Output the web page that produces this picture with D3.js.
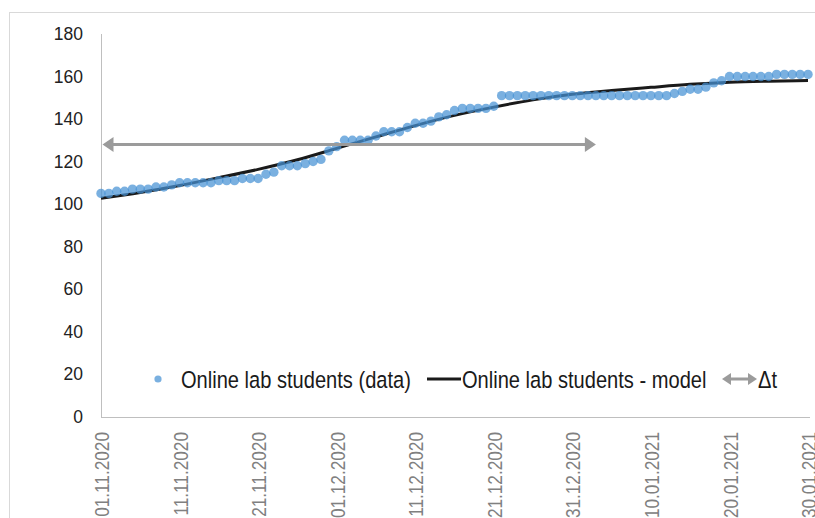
<!DOCTYPE html>
<html><head><meta charset="utf-8">
<script src="https://cdn.jsdelivr.net/npm/d3@7"></script>
<style>body{margin:0;background:#fff;} svg{display:block;}</style>
</head><body>
<svg id="chart" width="815" height="518"></svg>
<script>
// ---- data ----
const startDate = "01.11.2020";
const dataValues = [
  105,105,106,106,107,107,107,108,108,109,
  110,110,110,110,110,111,111,111,112,112,
  112,114,115,118,118,118,119,120,121,125,
  127,130,130,130,130,132,134,134,134,136,
  138,138,139,141,142,144,145,145,145,145,
  146,151,151,151,151,151,151,151,151,151,
  151,151,151,151,151,151,151,151,151,151,
  151,151,151,152,153,154,154,155,157,158,
  160,160,160,160,160,160,161,161,161,161,161
];
const modelDays   = [0, 5, 10, 15, 20, 25, 30, 35, 40, 45, 50, 55, 60, 65, 70, 75, 80, 85, 90];
const modelValues = [102.7,105.4,108.7,112.4,116.3,120.8,126.2,131.6,136.9,141.7,145.6,149.0,151.6,153.4,154.9,156.3,157.3,157.8,158.1];
const yTicks = [0, 20, 40, 60, 80, 100, 120, 140, 160, 180];
const xTickLabels = ["01.11.2020","11.11.2020","21.11.2020","01.12.2020","11.12.2020","21.12.2020","31.12.2020","10.01.2021","20.01.2021","30.01.2021"];
const arrowDates = ["01.11.2020", "03.01.2021"];
const arrowValue = 128;
const legendLabels = ["Online lab students (data)", "Online lab students - model", "\u0394t"];

// ---- fonts ----
function hasFont(name){
  const c = document.createElement('canvas').getContext('2d');
  const s = 'abcdefghijklmnopqrstuvw0123456789';
  c.font = '40px monospace'; const a = c.measureText(s).width;
  c.font = '40px "' + name + '", monospace'; const b = c.measureText(s).width;
  return a !== b;
}
const narrowOK = hasFont('Liberation Sans Narrow');
const narrowFamily = narrowOK ? '"Liberation Sans Narrow", "Arial Narrow", sans-serif' : '"Liberation Sans", Arial, sans-serif';
const narrowScale = narrowOK ? 1 : 0.82;
const regFamily = '"Liberation Sans", Arial, sans-serif';

// ---- scales ----
const parse = d3.utcParse("%d.%m.%Y");
const t0 = parse(startDate);
const dayMs = 864e5;
const x = d3.scaleUtc().domain([parse(xTickLabels[0]), parse(xTickLabels[xTickLabels.length-1])]).range([101, 808]);
const y = d3.scaleLinear().domain([0, 180]).range([416.5, 34]);

const svg = d3.select("#chart");

// outer border
svg.append("rect").attr("x", 9.5).attr("y", 12.5).attr("width", 830).attr("height", 530)
  .attr("fill", "#fff").attr("stroke", "#d9d9d9").attr("stroke-width", 1);

// y axis
const yAxis = svg.append("g").attr("transform", "translate(101,0)")
  .call(d3.axisLeft(y).tickValues(yTicks).tickSize(0).tickPadding(18));
yAxis.select(".domain").attr("stroke", "#bfbfbf").attr("d", "M0.5," + y(180) + "V" + (y(0)+0.5));
yAxis.selectAll("text").attr("font-family", regFamily).attr("font-size", 17.5).attr("fill", "#222");

// x axis
const xAxis = svg.append("g").attr("transform", "translate(0," + Math.round(y(0)) + ")")
  .call(d3.axisBottom(x).tickValues(xTickLabels.map(parse)).tickFormat(d3.utcFormat("%d.%m.%Y")).tickSize(0));
xAxis.select(".domain").attr("stroke", "#bfbfbf").attr("d", "M101,0.5H810");
xAxis.selectAll(".tick text")
  .attr("font-family", narrowFamily).attr("font-size", 21).attr("fill", "#808080")
  .attr("text-anchor", "end").attr("x", 0).attr("y", 0).attr("dy", "0.36em")
  .attr("transform", "translate(0,15) rotate(-90) scale(" + narrowScale + ",1)");

// model line
const modelPts = modelDays.map((d, i) => ({date: new Date(t0.getTime() + d*dayMs), v: modelValues[i]}));
svg.append("path").datum(modelPts)
  .attr("fill", "none").attr("stroke", "#1a1a1a").attr("stroke-width", 3)
  .attr("d", d3.line().x(d => x(d.date)).y(d => y(d.v)).curve(d3.curveMonotoneX));

// data points
const dataPts = dataValues.map((v, i) => ({date: new Date(t0.getTime() + i*dayMs), v}));
svg.append("g").selectAll("circle").data(dataPts).join("circle")
  .attr("cx", d => x(d.date)).attr("cy", d => y(d.v)).attr("r", 4.7)
  .attr("fill", "rgb(70,145,212)").attr("fill-opacity", 0.72);

// delta t arrow
function dblArrow(g, x1, x2, yy, head, half, sw){
  g.append("line").attr("x1", x1 + head - 1).attr("x2", x2 - head + 1).attr("y1", yy).attr("y2", yy)
    .attr("stroke", "#9b9b9b").attr("stroke-width", sw);
  g.append("path").attr("fill", "#9b9b9b")
    .attr("d", `M${x1},${yy}L${x1+head},${yy-half}L${x1+head},${yy+half}Z`);
  g.append("path").attr("fill", "#9b9b9b")
    .attr("d", `M${x2},${yy}L${x2-head},${yy-half}L${x2-head},${yy+half}Z`);
}
dblArrow(svg.append("g"), x(parse(arrowDates[0])) + 1.5, x(parse(arrowDates[1])), y(arrowValue), 11, 7.5, 3.2);

// legend
const lg = svg.append("g");
const ly = 379;
lg.append("circle").attr("cx", 158).attr("cy", ly).attr("r", 3.6).attr("fill", "rgb(70,145,212)").attr("fill-opacity", 0.72);
function ltext(tx, s){
  lg.append("text").attr("transform", `translate(${tx},${ly}) scale(${narrowScale},1)`)
    .attr("dy", "0.35em").attr("font-family", narrowFamily).attr("font-size", 24.5).attr("fill", "#1a1a1a").text(s);
}
ltext(181, legendLabels[0]);
lg.append("line").attr("x1", 427).attr("x2", 461).attr("y1", ly).attr("y2", ly).attr("stroke", "#1a1a1a").attr("stroke-width", 3);
ltext(462, legendLabels[1]);
dblArrow(lg, 722, 757, ly, 9, 6, 3);
ltext(758, legendLabels[2]);
</script>
</body></html>
